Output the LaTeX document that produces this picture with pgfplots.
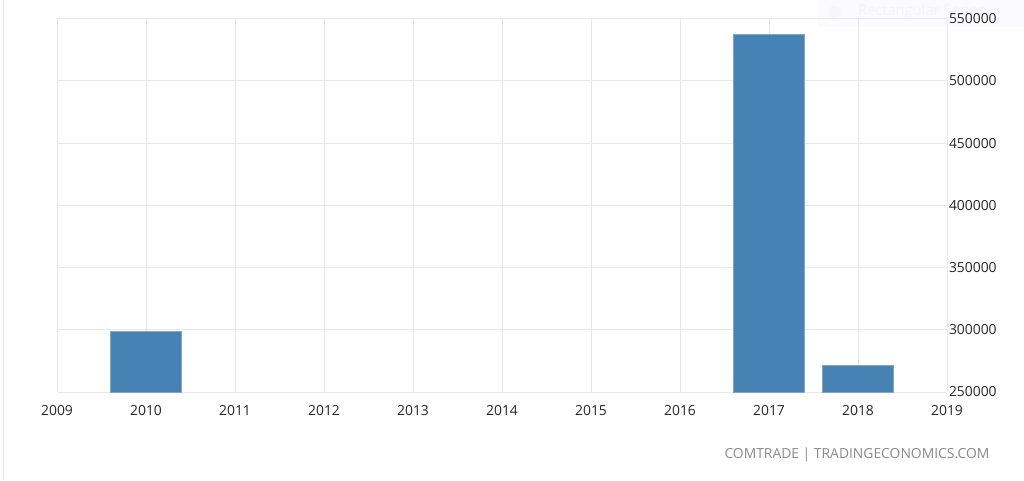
\documentclass[border=0pt]{standalone}
\usepackage{pgfplots}
\pgfplotsset{compat=1.18}
\usepackage{fontspec}
\setmainfont{Open Sans}
\definecolor{barblue}{HTML}{4682B4}
\definecolor{gridc}{HTML}{E8E8E8}
\definecolor{tickc}{HTML}{262626}
\definecolor{srcc}{HTML}{8A8A8A}
\begin{document}
\begin{tikzpicture}
\useasboundingbox[fill=white] (0pt,0pt) rectangle (768pt,360pt);
\draw[gridc] (2.25pt,0pt) -- (2.25pt,360pt);
\node[fill=blue!2,draw=none,minimum width=157pt,minimum height=20pt,anchor=north west,inner sep=0] at (613.5pt,360pt) {};
\fill[gray!7] (626pt,351pt) circle (4.5pt);
\node[anchor=west,text=gray!8,font=\fontsize{11pt}{13pt}\selectfont] at (640pt,351pt) {Rectangular Series};
\begin{axis}[
  at={(42.75pt,66pt)}, anchor=south west,
  width=667.5pt, height=280pt, scale only axis,
  xmin=2009, xmax=2019, ymin=250000, ymax=550000,
  xtick={2009,2010,2011,2012,2013,2014,2015,2016,2017,2018,2019},
  xticklabels={2009,2010,2011,2012,2013,2014,2015,2016,2017,2018,2019},
  ytick={250000,300000,350000,400000,450000,500000,550000},
  yticklabels={250000,300000,350000,400000,450000,500000,550000},
  grid=major, major grid style={gridc, line width=0.6pt},
  axis line style={draw=none}, tick style={draw=none},
  yticklabel pos=right,
  scaled y ticks=false,
  ticklabel style={text=tickc, font=\fontsize{10.4pt}{12pt}\selectfont},
  yticklabel style={anchor=west, xshift=-2pt},
  xticklabel style={yshift=-2.5pt},
  ybar, bar width=0.8,
]
\addplot[fill=barblue, draw=barblue!70!white, line width=0.4pt] coordinates {
  (2010,299000) (2017,537500) (2018,271500)
};
\end{axis}
\node[anchor=east,text=srcc,font=\fontsize{10.4pt}{12pt}\selectfont] at (745.5pt,18.75pt) {COMTRADE | TRADINGECONOMICS.COM};
\end{tikzpicture}
\end{document}
